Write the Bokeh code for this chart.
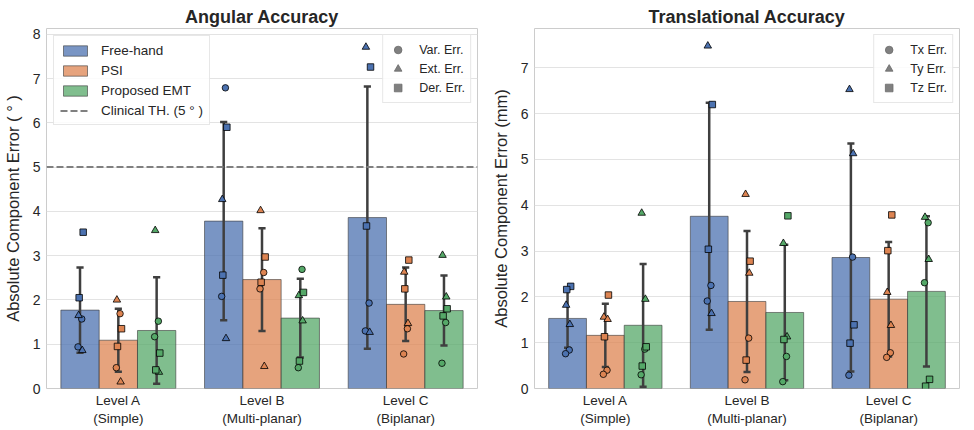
import numpy as np
from bokeh.plotting import figure
from bokeh.models import ColumnDataSource, Span, Legend, LegendItem, Range1d, FixedTicker
from bokeh.layouts import row
from bokeh.embed import file_html
from bokeh.resources import INLINE

# ---------------- data ----------------
level_labels = ["Level A\n(Simple)", "Level B\n(Multi-planar)", "Level C\n(Biplanar)"]
methods = ["Free-hand", "PSI", "Proposed EMT"]
colors = ["#4C72B0", "#DD8452", "#55A868"]
clinical_threshold = 5.0

# Angular accuracy (deg): bar means and SD per level A, B, C
ang_mean_freehand = [1.77, 3.78, 3.86]
ang_mean_psi = [1.09, 2.46, 1.90]
ang_mean_emt = [1.31, 1.59, 1.76]
ang_sd_freehand = [0.96, 2.24, 2.96]
ang_sd_psi = [0.71, 1.16, 0.83]
ang_sd_emt = [1.20, 0.89, 0.79]

# Angular individual errors: [level][sample]
ang_var_freehand = [[1.57, 0.94], [6.79, 2.08], [1.93, 1.30]]
ang_ext_freehand = [[1.65, 0.86], [4.27, 1.13], [7.71, 1.27]]
ang_der_freehand = [[3.53, 2.05], [5.90, 2.56], [7.26, 3.67]]
ang_var_psi = [[1.69, 0.47], [2.62, 2.25], [1.35, 0.78]]
ang_ext_psi = [[2.00, 0.15], [4.02, 0.50], [2.63, 1.47]]
ang_der_psi = [[1.35, 0.95], [2.97, 2.40], [2.90, 2.25]]
ang_var_emt = [[1.52, 1.17], [2.69, 0.47], [1.49, 0.57]]
ang_ext_emt = [[3.57, 0.37], [2.10, 1.53], [3.01, 2.07]]
ang_der_emt = [[0.80, 0.42], [2.17, 0.62], [1.80, 1.64]]

# Translational accuracy (mm)
tr_mean_freehand = [1.53, 3.76, 2.86]
tr_mean_psi = [1.16, 1.90, 1.95]
tr_mean_emt = [1.38, 1.66, 2.12]
tr_sd_freehand = [0.64, 2.48, 2.49]
tr_sd_psi = [0.69, 1.54, 1.25]
tr_sd_emt = [1.34, 1.48, 1.64]

tr_x_freehand = [[0.84, 0.76], [2.25, 1.91], [2.87, 0.29]]
tr_y_freehand = [[1.82, 1.40], [7.48, 1.64], [6.53, 5.13]]
tr_z_freehand = [[2.23, 2.16], [6.20, 3.04], [1.39, 0.99]]
tr_x_psi = [[0.40, 0.31], [1.10, 0.19], [0.78, 0.68]]
tr_y_psi = [[1.56, 1.51], [4.24, 2.52], [2.10, 1.38]]
tr_z_psi = [[2.04, 1.13], [2.78, 0.62], [3.79, 3.01]]
tr_x_emt = [[0.86, 0.30], [0.70, 0.15], [3.62, 2.31]]
tr_y_emt = [[3.83, 1.95], [3.17, 1.13], [3.74, 2.82]]
tr_z_emt = [[0.91, 0.49], [3.77, 1.07], [0.20, 0.05]]

ang_marker_labels = ["Var. Err.", "Ext. Err.", "Der. Err."]
tr_marker_labels = ["Tx Err.", "Ty Err.", "Tz Err."]

# ---------------- style ----------------
FONT = "Liberation Sans"
TXT = "#262626"
MARKERS = ["circle", "triangle", "square"]
JITTER = [[0.012, -0.014], [-0.01, 0.016], [0.022, -0.006]]
BAR_W = 0.8 / 3
OFFS = [-BAR_W, 0.0, BAR_W]
CAP = 0.025
NAN1 = np.array([np.nan])
NAN2 = np.array([np.nan, np.nan])


def style_legend(leg, size):
    leg.label_text_font = FONT
    leg.label_text_font_size = size
    leg.label_text_color = TXT
    leg.border_line_color = "#d0d0d0"
    leg.background_fill_alpha = 0.85


def make_fig(title, ylabel, ytop, means, sds, pts, marker_labels, width, left, right, thr):
    p = figure(width=width, height=428, output_backend="svg", toolbar_location=None,
               x_range=Range1d(-0.5, 2.5), y_range=Range1d(0, ytop),
               min_border_left=left, min_border_right=right, min_border_top=28,
               min_border_bottom=40, title=title)
    p.title.text_font = FONT
    p.title.text_font_size = "18px"
    p.title.text_font_style = "bold"
    p.title.text_color = TXT
    p.title.align = "center"
    p.title.standoff = 4
    p.outline_line_color = "#cccccc"
    p.xgrid.grid_line_color = None
    p.ygrid.grid_line_color = "#e3e3e3"
    p.ygrid.grid_line_width = 1

    for ax in (p.xaxis[0], p.yaxis[0]):
        ax.axis_line_color = None
        ax.major_tick_line_color = None
        ax.minor_tick_line_color = None
        ax.major_tick_out = 0
        ax.major_tick_in = 0
        ax.major_label_text_font = FONT
        ax.major_label_text_color = TXT
    p.xaxis.ticker = FixedTicker(ticks=[0, 1, 2])
    p.xaxis.major_label_overrides = {i: lab for i, lab in enumerate(level_labels)}
    p.xaxis.major_label_text_font_size = "13.5px"
    p.xaxis.major_label_standoff = 4
    p.yaxis.ticker = FixedTicker(ticks=list(range(0, int(ytop) + 1)))
    p.yaxis.major_label_text_font_size = "14px"
    p.yaxis.major_label_standoff = 6
    p.yaxis.axis_label = ylabel
    p.yaxis.axis_label_text_font = FONT
    p.yaxis.axis_label_text_font_size = "16.5px"
    p.yaxis.axis_label_text_font_style = "normal"
    p.yaxis.axis_label_text_color = TXT
    p.yaxis.axis_label_standoff = 8

    bar_rs = []
    for m in range(3):
        xs = [i + OFFS[m] for i in range(3)]
        src = ColumnDataSource(dict(
            x=xs, top=means[m],
            up=[a + b for a, b in zip(means[m], sds[m])],
            lo=[a - b for a, b in zip(means[m], sds[m])],
            cl=[x - CAP for x in xs], cr=[x + CAP for x in xs]))
        r = p.vbar(x="x", top="top", width=BAR_W, source=src, fill_color=colors[m],
                   fill_alpha=0.75, line_color="#3a3a3a", line_alpha=0.6, line_width=1)
        bar_rs.append(r)
        ec = "#3f3f3f"
        p.segment(x0="x", y0="lo", x1="x", y1="up", source=src, line_color=ec, line_width=2.5)
        p.segment(x0="cl", y0="up", x1="cr", y1="up", source=src, line_color=ec, line_width=2.5)
        p.segment(x0="cl", y0="lo", x1="cr", y1="lo", source=src, line_color=ec, line_width=2.5)

    for k in range(3):
        for m in range(3):
            xs, ys = [], []
            for i in range(3):
                for s, v in enumerate(pts[k][m][i]):
                    xs.append(i + OFFS[m] + JITTER[k][s])
                    ys.append(v)
            p.scatter(xs, ys, marker=MARKERS[k], size=6.5 if k != 1 else 7.5,
                      fill_color=colors[m], line_color="black", line_width=0.8)

    if thr is not None:
        p.add_layout(Span(location=thr, dimension="width", line_color="#808080",
                          line_dash="7 3", line_width=2))
        dummy = p.line(x=NAN2, y=NAN2, line_color="#808080", line_dash="7 3", line_width=2)
        leg1 = Legend(items=[LegendItem(label=methods[m], renderers=[bar_rs[m]]) for m in range(3)]
                      + [LegendItem(label="Clinical TH. (5 ° )", renderers=[dummy])],
                      location="top_left")
        leg1.margin = 7
        leg1.padding = 6
        leg1.spacing = 4
        leg1.label_height = 16
        leg1.glyph_height = 13
        leg1.glyph_width = 30
        leg1.label_standoff = 11
        style_legend(leg1, "13.5px")
        p.add_layout(leg1)

    mk_rs = []
    for k in range(3):
        mk_rs.append(p.scatter(x=NAN1, y=NAN1, marker=MARKERS[k], size=9,
                               fill_color="#808080", line_color="#6a6a6a", line_width=0.8))
    leg2 = Legend(items=[LegendItem(label=marker_labels[k], renderers=[mk_rs[k]]) for k in range(3)],
                  location="top_right")
    leg2.margin = 6
    leg2.padding = 5
    leg2.spacing = 0
    leg2.label_height = 18
    leg2.glyph_height = 19
    leg2.glyph_width = 19
    leg2.label_standoff = 12
    style_legend(leg2, "12.5px")
    p.add_layout(leg2)
    return p


ang_pts = [
    [ang_var_freehand, ang_var_psi, ang_var_emt],
    [ang_ext_freehand, ang_ext_psi, ang_ext_emt],
    [ang_der_freehand, ang_der_psi, ang_der_emt],
]
tr_pts = [
    [tr_x_freehand, tr_x_psi, tr_x_emt],
    [tr_y_freehand, tr_y_psi, tr_y_emt],
    [tr_z_freehand, tr_z_psi, tr_z_emt],
]

p1 = make_fig("Angular Accuracy", "Absolute Component Error ( ° )", 8.13,
              [ang_mean_freehand, ang_mean_psi, ang_mean_emt],
              [ang_sd_freehand, ang_sd_psi, ang_sd_emt],
              ang_pts, ang_marker_labels, 480, 42, 3, clinical_threshold)
p2 = make_fig("Translational Accuracy", "Absolute Component Error (mm)", 7.86,
              [tr_mean_freehand, tr_mean_psi, tr_mean_emt],
              [tr_sd_freehand, tr_sd_psi, tr_sd_emt],
              tr_pts, tr_marker_labels, 482, 54, 3, None)

layout = row(p1, p2)
open("out.html", "w").write(file_html(layout, INLINE))
